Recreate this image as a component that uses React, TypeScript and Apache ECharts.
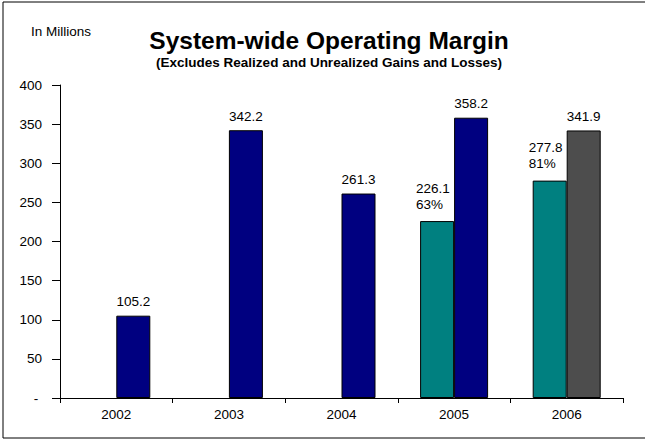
import React, { useEffect, useRef } from "react";
import * as echarts from "echarts";

const categories = ["2002", "2003", "2004", "2005", "2006"];
const partialValues: (number | null)[] = [null, null, null, 226.1, 277.8];
const partialPercents: (string | null)[] = [null, null, null, "63%", "81%"];
const fullValues = [105.2, 342.2, 261.3, 358.2, 341.9];
const yTicks = [0, 50, 100, 150, 200, 250, 300, 350, 400];

const NAVY = "#000080";
const TEAL = "#008080";
const GRAY = "#4D4D4D";

export default function App() {
  const ref = useRef<HTMLDivElement>(null);
  useEffect(() => {
    document.body.style.margin = "0";
    if (!ref.current) return;
    const chart = echarts.init(ref.current, undefined, { renderer: "svg" });
    const font = "Liberation Sans, Arial, sans-serif";
    chart.setOption({
      animation: false,
      textStyle: { fontFamily: font },
      graphic: [
        {
          type: "rect",
          shape: { x: 3, y: 2, width: 644, height: 436 },
          style: { fill: "none", stroke: "#000", lineWidth: 1 },
          silent: true,
        },
        {
          type: "text",
          x: 31,
          y: 24,
          style: { text: "In Millions", fontSize: 13.5, fontFamily: font, fill: "#000" },
        },
      ],
      title: {
        text: "System-wide Operating Margin",
        subtext: "(Excludes Realized and Unrealized Gains and Losses)",
        left: 324,
        textAlign: "center",
        top: 23,
        itemGap: 2,
        textStyle: { fontSize: 24.5, fontWeight: "bold", color: "#000", fontFamily: font },
        subtextStyle: { fontSize: 13.5, fontWeight: "bold", color: "#000", fontFamily: font },
      },
      grid: { left: 60, right: 22, top: 85, bottom: 42 },
      xAxis: {
        type: "category",
        data: categories,
        axisLine: { lineStyle: { color: "#000", width: 1 } },
        axisTick: { show: true, alignWithLabel: false, length: 5, lineStyle: { color: "#000" } },
        axisLabel: { color: "#000", fontSize: 13.5, margin: 9, fontFamily: font },
      },
      yAxis: {
        type: "value",
        min: 0,
        max: yTicks[yTicks.length - 1],
        interval: 50,
        splitLine: { show: false },
        axisLine: { show: true, lineStyle: { color: "#000", width: 1 } },
        axisTick: { show: true, length: 8, lineStyle: { color: "#000" } },
        axisLabel: {
          color: "#000",
          fontSize: 13.5,
          margin: 18,
          fontFamily: font,
          formatter: (v: number) => (v === 0 ? "- " : String(v)),
        },
      },
      series: [
        {
          type: "bar",
          data: partialValues,
          barWidth: 34,
          barGap: "0%",
          itemStyle: { color: TEAL, borderColor: "#000", borderWidth: 1 },
          label: {
            show: true,
            position: "top",
            align: "left",
            offset: [-21, 0],
            distance: 9,
            color: "#000",
            fontSize: 13.5,
            lineHeight: 16,
            fontFamily: font,
            formatter: (p: any) => `${p.value}\n${partialPercents[p.dataIndex]}`,
          },
        },
        {
          type: "bar",
          data: fullValues.map((v, i) => ({
            value: v,
            itemStyle: { color: i === 4 ? GRAY : NAVY },
          })),
          barWidth: 34,
          barGap: "0%",
          itemStyle: { color: NAVY, borderColor: "#000", borderWidth: 1 },
          label: {
            show: true,
            position: "top",
            distance: 7,
            color: "#000",
            fontSize: 13.5,
            fontFamily: font,
            formatter: (p: any) => p.value.toFixed(1),
          },
        },
      ],
    });
    return () => chart.dispose();
  }, []);
  return <div ref={ref} style={{ width: 645, height: 440 }} />;
}
